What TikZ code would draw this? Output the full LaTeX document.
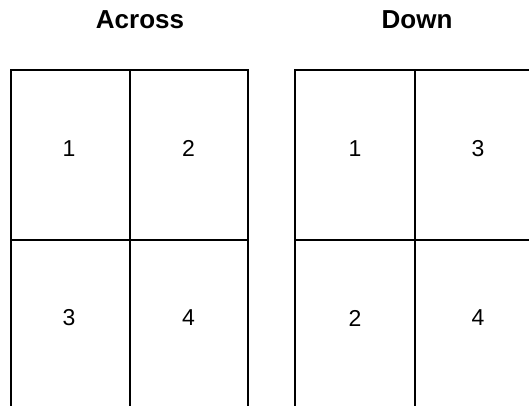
\documentclass[tikz,border=0pt]{standalone}
\usepackage{fontspec}
\setmainfont{Liberation Sans}
\begin{document}
\begin{tikzpicture}[x=1pt,y=-1pt,
  cell/.style={draw=black,line width=2pt,minimum height=170pt,inner sep=0pt,outer sep=0pt},
  lcell/.style={cell,minimum width=118.5pt},
  rcell/.style={cell,minimum width=120pt},
  title/.style={font=\bfseries\fontsize{26}{30}\selectfont,anchor=base},
  num/.style={font=\fontsize{23}{27}\selectfont}]
\useasboundingbox (0,0) rectangle (529,406);
\clip (0,0) rectangle (529,406);
% Across grid
\node[lcell] (a1) at (70.25,155) {};
\node[lcell] (a2) at (188.75,155) {};
\node[lcell] (a3) at (70.25,325) {};
\node[lcell] (a4) at (188.75,325) {};
% Down grid
\node[rcell] (d1) at (355,155) {};
\node[rcell] (d3) at (475,155) {};
\node[rcell] (d2) at (355,325) {};
\node[rcell] (d4) at (475,325) {};
% titles
\node[title] (tA) at (140,29) {Across};
\node[title] (tD) at (417,29) {Down};
% numbers
\node[num] (n1) at (69,148.5) {1};
\node[num] (n2) at (188.5,148.5) {2};
\node[num] (n3) at (69,318) {3};
\node[num] (n4) at (188.5,318) {4};
\node[num] (m1) at (355,148.5) {1};
\node[num] (m3) at (478,148.5) {3};
\node[num] (m2) at (355,318) {2};
\node[num] (m4) at (478,318) {4};
\end{tikzpicture}
\end{document}
